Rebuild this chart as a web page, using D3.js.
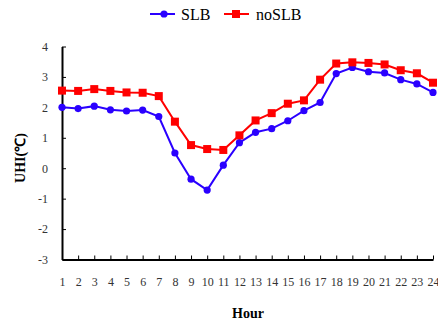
<!DOCTYPE html>
<html><head><meta charset="utf-8">
<script src="https://cdn.jsdelivr.net/npm/d3@7"></script>
<style>body{margin:0;background:#fff}svg{display:block}svg text{font-family:"Liberation Serif","Times New Roman",Times,serif}</style>
</head><body>
<script>
const hours = d3.range(1, 25);
const slb = [2.0,1.96,2.04,1.92,1.88,1.91,1.70,0.50,-0.36,-0.72,0.10,0.84,1.18,1.30,1.56,1.89,2.16,3.11,3.31,3.17,3.13,2.91,2.77,2.49];
const noslb = [2.55,2.54,2.60,2.54,2.49,2.48,2.37,1.53,0.76,0.63,0.60,1.08,1.57,1.81,2.12,2.23,2.91,3.44,3.48,3.46,3.41,3.22,3.12,2.81];
const yTicks = [-3,-2,-1,0,1,2,3,4];
const seriesNames = ["SLB","noSLB"];
const colors = ["#2a00ff","#ff0000"];

const W = 438, H = 329;
const svg = d3.select("body").append("svg").attr("width", W).attr("height", H);
const x = d3.scaleLinear().domain([1, 24]).range([62, 433]);
const y = d3.scaleLinear().domain([-3, 4]).range([259.5, 46.5]);

// axes
const gy = svg.append("g").attr("transform", "translate(62,0)")
  .call(d3.axisLeft(y).tickValues(yTicks).tickFormat(d => String(d)).tickSizeInner(-4).tickSizeOuter(0).tickPadding(14));
const gx = svg.append("g").attr("transform", "translate(0,259.5)")
  .call(d3.axisBottom(x).tickValues(hours).tickFormat(d => String(d)).tickSizeInner(-4).tickSizeOuter(0).tickPadding(18));
[gy, gx].forEach(g => {
  g.attr("font-family", null);
  g.select(".domain").attr("stroke", "#000").attr("stroke-width", 2);
  g.selectAll(".tick line").attr("stroke", "#000").attr("stroke-width", 1);
  g.selectAll(".tick text").style("font-size", "12px").attr("fill", "#333");
});

// lines
const data = [slb, noslb];
data.forEach((vals, i) => {
  const line = d3.line().x((d, j) => x(hours[j])).y(d => y(d));
  svg.append("path").datum(vals).attr("d", line).attr("fill", "none")
    .attr("stroke", colors[i]).attr("stroke-width", 2);
  if (i === 0) {
    svg.selectAll(null).data(vals).enter().append("circle")
      .attr("cx", (d, j) => x(hours[j])).attr("cy", d => y(d)).attr("r", 3.6).attr("fill", colors[i]);
  } else {
    svg.selectAll(null).data(vals).enter().append("rect")
      .attr("x", (d, j) => x(hours[j]) - 4).attr("y", d => y(d) - 4)
      .attr("width", 8).attr("height", 8).attr("fill", colors[i]);
  }
});

// legend
const leg = [{x0:150, tx:181}, {x0:224, tx:256}];
leg.forEach((l, i) => {
  svg.append("line").attr("x1", l.x0).attr("x2", l.x0 + 25).attr("y1", 14).attr("y2", 14)
    .attr("stroke", colors[i]).attr("stroke-width", 2);
  if (i === 0) svg.append("circle").attr("cx", l.x0 + 14).attr("cy", 14).attr("r", 3.6).attr("fill", colors[i]);
  else svg.append("rect").attr("x", l.x0 + 12 - 4).attr("y", 10).attr("width", 8).attr("height", 8).attr("fill", colors[i]);
  svg.append("text").attr("x", l.tx).attr("y", 20).style("font-size", "16px")
    .attr("fill", "#000").text(seriesNames[i]);
});

// axis titles
svg.append("text").attr("x", 248).attr("y", 318).attr("text-anchor", "middle")
  .style("font-size", "14px").attr("font-weight", "bold").text("Hour");
svg.append("text").attr("transform", "translate(25,158) rotate(-90)").attr("text-anchor", "middle")
  .style("font-size", "14px").attr("font-weight", "bold").text("UHI(℃)");
</script>
</body></html>
